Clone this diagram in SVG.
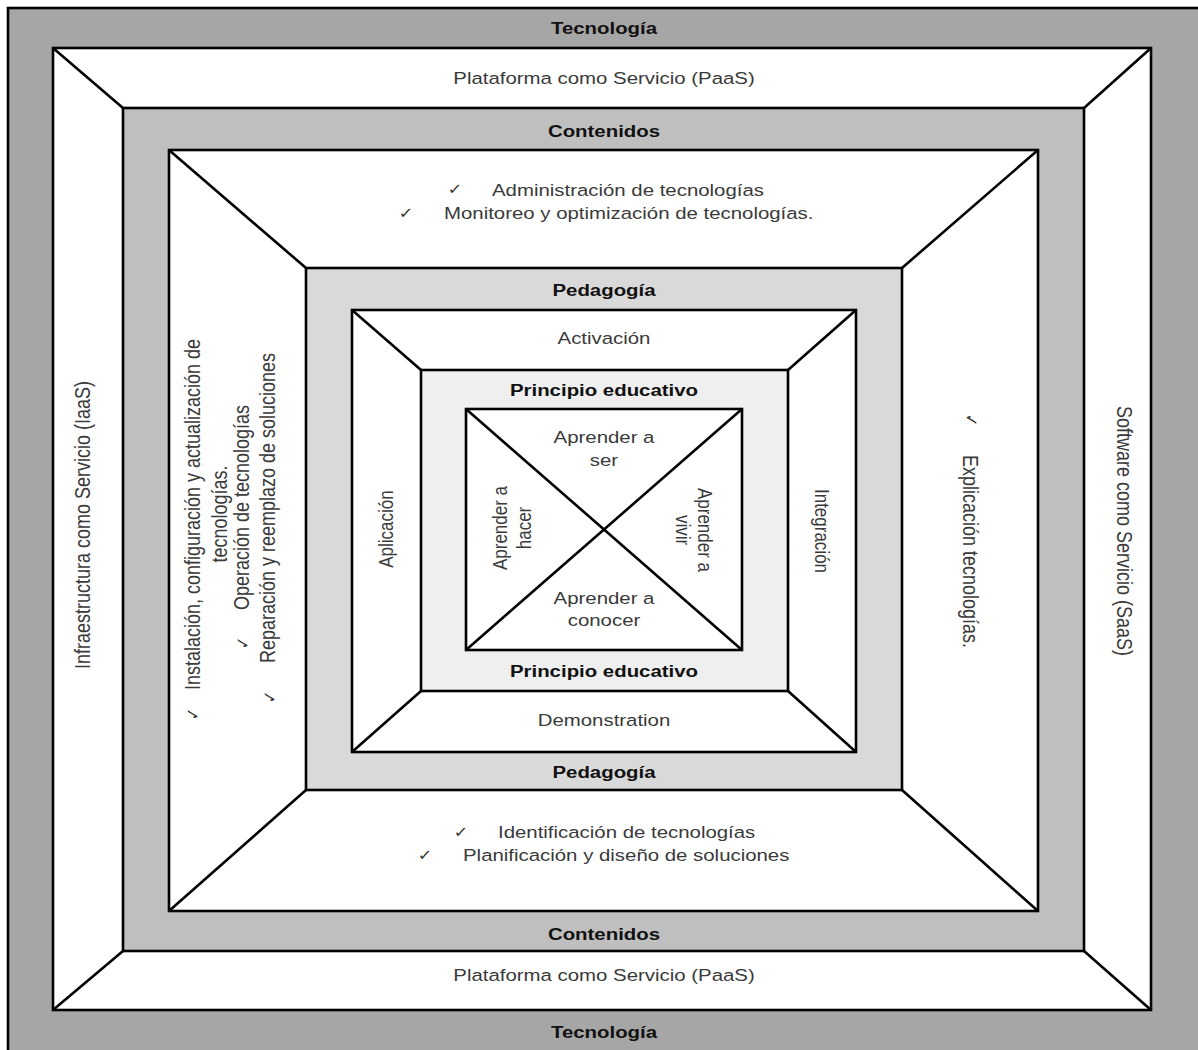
<svg xmlns="http://www.w3.org/2000/svg" width="1198" height="1050" viewBox="0 0 1198 1050">
<style>
.fr{stroke:#000;stroke-width:2.6}
.ln{stroke:#000;stroke-width:2.6;fill:none}
.h{font-family:"Liberation Sans",Arial,sans-serif;font-size:17px;font-weight:bold;fill:#111;text-anchor:middle}
.t{font-family:"Liberation Sans",Arial,sans-serif;font-size:17px;fill:#3a3a3a}
.m{text-anchor:middle}
.r{font-size:18px}
.ck{font-family:"DejaVu Sans",sans-serif;font-size:15px;fill:#333;text-anchor:middle}
</style>
<rect width="1198" height="1050" fill="#fff"/>
<g id="tecnologia">
<rect class="fr" x="8" y="8" width="1200" height="1060" fill="#a6a6a6"/>
<text class="h" transform="translate(604,34) scale(1.2,1)">Tecnología</text>
<text class="h" transform="translate(604,1038) scale(1.2,1)">Tecnología</text>
</g>
<g id="servicios">
<rect class="fr" x="53" y="48" width="1098" height="962" fill="#fff"/>
<text class="t m" transform="translate(604,84) scale(1.2,1)">Plataforma como Servicio (PaaS)</text>
<text class="t m" transform="translate(604,981) scale(1.2,1)">Plataforma como Servicio (PaaS)</text>
<text class="t m r" transform="translate(90,525) scale(1.2,1) rotate(-90)">Infraestructura como Servicio (IaaS)</text>
<text class="t m r" transform="translate(1117,531) scale(1.2,1) rotate(90)">Software como Servicio (SaaS)</text>
</g>
<g id="contenidos">
<rect class="fr" x="123" y="108" width="961" height="843" fill="#bfbfbf"/>
<text class="h" transform="translate(604,137) scale(1.2,1)">Contenidos</text>
<text class="h" transform="translate(604,940) scale(1.2,1)">Contenidos</text>
</g>
<g id="contenidos-items">
<rect class="fr" x="169" y="150" width="869" height="761" fill="#fff"/>
<text class="ck" transform="translate(455,194) scale(1.2,1)">✓</text>
<text class="t" transform="translate(492,196) scale(1.2,1)">Administración de tecnologías</text>
<text class="ck" transform="translate(406,218) scale(1.2,1)">✓</text>
<text class="t" transform="translate(444,219) scale(1.2,1)">Monitoreo y optimización de tecnologías.</text>
<text class="ck" transform="translate(461,837) scale(1.2,1)">✓</text>
<text class="t" transform="translate(498,838) scale(1.2,1)">Identificación de tecnologías</text>
<text class="ck" transform="translate(425,860) scale(1.2,1)">✓</text>
<text class="t" transform="translate(463,861) scale(1.2,1)">Planificación y diseño de soluciones</text>
<text class="ck" transform="translate(199,714) scale(1.2,1) rotate(-90)">✓</text>
<text class="t r" transform="translate(200,690) scale(1.2,1) rotate(-90)">Instalación, configuración y actualización de</text>
<text class="t m r" transform="translate(227,514) scale(1.2,1) rotate(-90)">tecnologías.</text>
<text class="ck" transform="translate(249,643) scale(1.2,1) rotate(-90)">✓</text>
<text class="t r" transform="translate(249,610) scale(1.2,1) rotate(-90)">Operación de tecnologías</text>
<text class="ck" transform="translate(276,697) scale(1.2,1) rotate(-90)">✓</text>
<text class="t r" transform="translate(275,663) scale(1.2,1) rotate(-90)">Reparación y reemplazo de soluciones</text>
<text class="ck" transform="translate(965,420) scale(1.2,1) rotate(90)">✓</text>
<text class="t r" transform="translate(963,455) scale(1.2,1) rotate(90)">Explicación tecnologías.</text>
</g>
<g id="pedagogia">
<rect class="fr" x="306" y="268" width="596" height="522" fill="#d9d9d9"/>
<text class="h" transform="translate(604,296) scale(1.2,1)">Pedagogía</text>
<text class="h" transform="translate(604,778) scale(1.2,1)">Pedagogía</text>
</g>
<g id="fases">
<rect class="fr" x="352" y="310" width="504" height="442" fill="#fff"/>
<text class="t m" transform="translate(604,344) scale(1.2,1)">Activación</text>
<text class="t m" transform="translate(604,726) scale(1.2,1)">Demonstration</text>
<text class="t m" transform="translate(393,529) scale(1.2,1) rotate(-90)">Aplicación</text>
<text class="t m" transform="translate(815,531) scale(1.2,1) rotate(90)">Integración</text>
</g>
<g id="principio">
<rect class="fr" x="421" y="370" width="367" height="321" fill="#efefef"/>
<text class="h" transform="translate(604,396) scale(1.2,1)">Principio educativo</text>
<text class="h" transform="translate(604,677) scale(1.2,1)">Principio educativo</text>
</g>
<g id="aprender">
<rect class="fr" x="466" y="409" width="276" height="241" fill="#fff"/>
<text class="t m" transform="translate(604,443) scale(1.2,1)">Aprender a</text>
<text class="t m" transform="translate(604,466) scale(1.2,1)">ser</text>
<text class="t m" transform="translate(604,604) scale(1.2,1)">Aprender a</text>
<text class="t m" transform="translate(604,626) scale(1.2,1)">conocer</text>
<text class="t m" transform="translate(507,528) scale(1.2,1) rotate(-90)">Aprender a</text>
<text class="t m" transform="translate(531,528) scale(1.2,1) rotate(-90)">hacer</text>
<text class="t m" transform="translate(698,530) scale(1.2,1) rotate(90)">Aprender a</text>
<text class="t m" transform="translate(676,530) scale(1.2,1) rotate(90)">vivir</text>
</g>
<g id="connectors">
<line class="ln" x1="53" y1="48" x2="123" y2="108"/>
<line class="ln" x1="1151" y1="48" x2="1084" y2="108"/>
<line class="ln" x1="53" y1="1010" x2="123" y2="951"/>
<line class="ln" x1="1151" y1="1010" x2="1084" y2="951"/>
<line class="ln" x1="169" y1="150" x2="306" y2="268"/>
<line class="ln" x1="1038" y1="150" x2="902" y2="268"/>
<line class="ln" x1="169" y1="911" x2="306" y2="790"/>
<line class="ln" x1="1038" y1="911" x2="902" y2="790"/>
<line class="ln" x1="352" y1="310" x2="421" y2="370"/>
<line class="ln" x1="856" y1="310" x2="788" y2="370"/>
<line class="ln" x1="352" y1="752" x2="421" y2="691"/>
<line class="ln" x1="856" y1="752" x2="788" y2="691"/>
<line class="ln" x1="466" y1="409" x2="742" y2="650"/>
<line class="ln" x1="742" y1="409" x2="466" y2="650"/>
</g>
</svg>
